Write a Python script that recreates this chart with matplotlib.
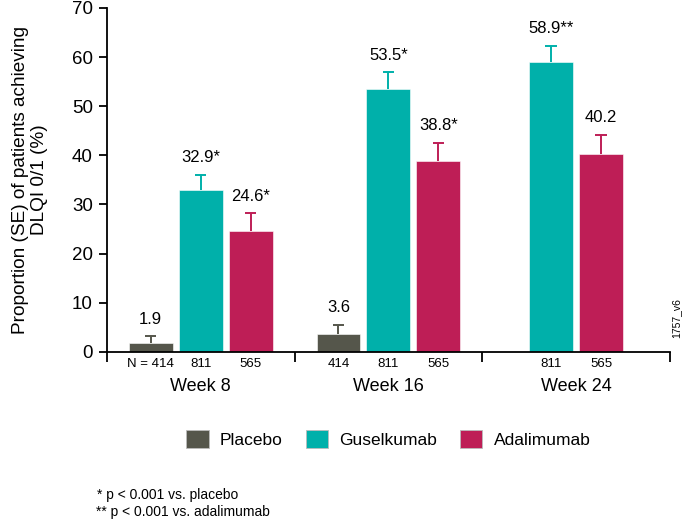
import numpy as np
import matplotlib.pyplot as plt
from matplotlib.patches import Patch

plt.rcParams['font.family'] = ['Liberation Sans', 'DejaVu Sans']

# data
weeks = ["Week 8", "Week 16", "Week 24"]
arms = ["Placebo", "Guselkumab", "Adalimumab"]
colors = {"Placebo": "#55564b", "Guselkumab": "#00b0aa", "Adalimumab": "#be1e56"}

# None = arm not reported at that week
values = {
    "Placebo":    [1.9, 3.6, None],
    "Guselkumab": [32.9, 53.5, 58.9],
    "Adalimumab": [24.6, 38.8, 40.2],
}
se = {
    "Placebo":    [1.3, 1.9, None],
    "Guselkumab": [3.2, 3.4, 3.3],
    "Adalimumab": [3.6, 3.8, 3.9],
}
stars = {
    "Placebo":    ["", "", ""],
    "Guselkumab": ["*", "*", "**"],
    "Adalimumab": ["*", "*", ""],
}
n_labels = {
    "Placebo":    ["N = 414", "414", None],
    "Guselkumab": ["811", "811", "811"],
    "Adalimumab": ["565", "565", "565"],
}

fig = plt.figure(figsize=(6.85, 5.23), dpi=100)
ax = fig.add_axes([0.156, 0.327, 0.822, 0.658])

width = 0.234
step = 0.266
cap = 0.03
for g, wk in enumerate(weeks):
    present = [a for a in arms if values[a][g] is not None]
    offsets = (np.arange(len(present)) - (len(present) - 1) / 2) * step
    for a, off in zip(present, offsets):
        x = g + off
        v = values[a][g]
        top = v + se[a][g]
        ax.bar(x, v, width=width, color=colors[a], edgecolor="white", linewidth=0.4, zorder=2)
        # one-sided SE whisker
        ax.vlines(x, v, top, color=colors[a], linewidth=1.4, zorder=1)
        ax.hlines(top, x - cap, x + cap, color=colors[a], linewidth=1.4, zorder=1)
        ax.annotate(f"{v}{stars[a][g]}", (x, top), xytext=(0, 7),
                    textcoords="offset points", ha="center", va="bottom", fontsize=12)
        ax.text(x, -0.035, n_labels[a][g], transform=ax.get_xaxis_transform(),
                ha="center", va="center", fontsize=9.5)
    ax.text(g, -0.1, wk, transform=ax.get_xaxis_transform(), ha="center", va="center",
            fontsize=13)

ax.set_xlim(-0.5, 2.5)
ax.set_ylim(0, 70)
ax.set_yticks(range(0, 71, 10))
ax.set_xticks([-0.5, 0.5, 1.5, 2.5])
ax.set_xticklabels([])
ax.tick_params(axis="y", labelsize=13.5, length=6, width=1.3, direction="out", pad=4)
ax.tick_params(axis="x", length=7, width=1.3, direction="out")
for s in ["top", "right"]:
    ax.spines[s].set_visible(False)
for s in ["left", "bottom"]:
    ax.spines[s].set_linewidth(1.3)
ax.set_ylabel("Proportion (SE) of patients achieving\nDLQI 0/1 (%)", fontsize=13.7,
              labelpad=17)

handles = [Patch(facecolor=colors[a], edgecolor="#bbbbbb", linewidth=0.6, label=a) for a in arms]
fig.legend(handles=handles, loc="center", bbox_to_anchor=(0.567, 1 - 439 / 523), ncol=3,
           frameon=False, fontsize=12.5, handlelength=1.3, handleheight=1.3,
           handletextpad=0.65, columnspacing=1.3)

fig.text(0.142, 1 - 495 / 523, "* p < 0.001 vs. placebo", fontsize=10, va="center")
fig.text(0.140, 1 - 512 / 523, "** p < 0.001 vs. adalimumab", fontsize=10, va="center")
fig.text(0.988, 1 - 318 / 523, "1757_v6", fontsize=7.5, rotation=90, ha="center", va="center")

fig.savefig("out.png", dpi=100)
